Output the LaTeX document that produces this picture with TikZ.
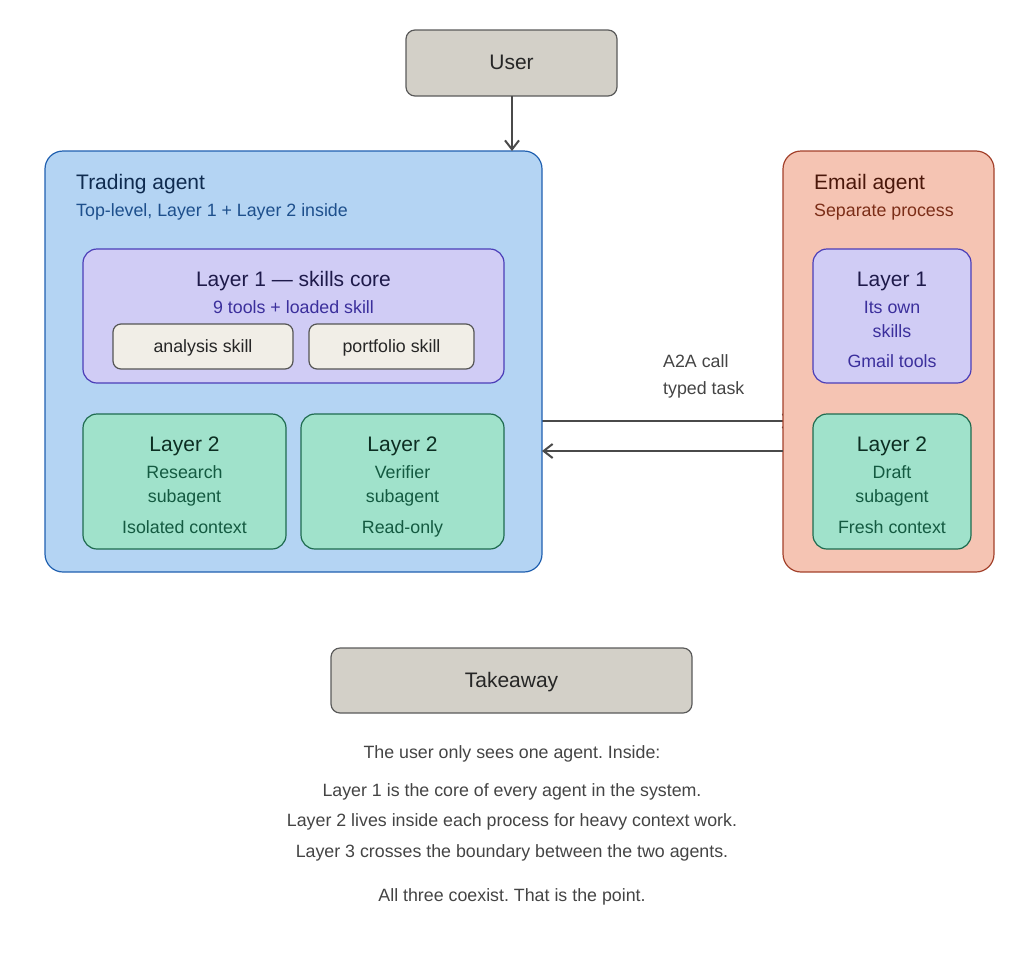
\documentclass[tikz,border=0pt]{standalone}
\usepackage{fontspec}
\setmainfont{Liberation Sans}
\frenchspacing
\usetikzlibrary{arrows.meta,backgrounds}
\definecolor{usrfill}{HTML}{D3D0C8}
\definecolor{usrdraw}{HTML}{5A5A5A}
\definecolor{bluefill}{HTML}{B4D4F3}
\definecolor{bluedraw}{HTML}{2060B0}
\definecolor{bluetitle}{HTML}{0F2B4F}
\definecolor{bluesub}{HTML}{1D4F8C}
\definecolor{lonefill}{HTML}{D0CCF5}
\definecolor{lonedraw}{HTML}{4B3EB8}
\definecolor{lonetitle}{HTML}{1E1A4A}
\definecolor{lonesub}{HTML}{3B2F9C}
\definecolor{skillfill}{HTML}{F1EEE7}
\definecolor{skilldraw}{HTML}{555555}
\definecolor{ltwofill}{HTML}{A0E2CB}
\definecolor{ltwodraw}{HTML}{1E6B4F}
\definecolor{ltwotitle}{HTML}{0C2E22}
\definecolor{ltwosub}{HTML}{145A41}
\definecolor{emailfill}{HTML}{F5C4B3}
\definecolor{emaildraw}{HTML}{A3412B}
\definecolor{emailtitle}{HTML}{4A170A}
\definecolor{emailsub}{HTML}{7B2D17}
\definecolor{arrowcol}{HTML}{4A4A4A}
\definecolor{textgray}{HTML}{444444}
\tikzset{
  box/.style={draw, line width=1.2pt, inner sep=0pt, outer sep=0pt},
  head/.style={anchor=base, inner sep=0pt, font=\fontsize{21}{25}\selectfont},
  body/.style={anchor=base, inner sep=0pt, font=\fontsize{17.8}{21}\selectfont},
  conn/.style={draw=arrowcol, line width=2pt, -{Straight Barb[length=9pt,width=14pt,line width=2pt]}},
}
\begin{document}
\begin{tikzpicture}[x=1pt,y=-1pt]
\useasboundingbox (0,0) rectangle (1024,964);
% boxes
\node[box, fill=usrfill, draw=usrdraw, rounded corners=9pt, minimum width=211pt, minimum height=66pt] (user) at (511.5,63) {};
\node[box, fill=bluefill, draw=bluedraw, rounded corners=18pt, minimum width=497pt, minimum height=421pt] (trading) at (293.5,361.5) {};
\node[box, fill=emailfill, draw=emaildraw, rounded corners=18pt, minimum width=211pt, minimum height=421pt] (email) at (888.5,361.5) {};
\node[box, fill=lonefill, draw=lonedraw, rounded corners=14pt, minimum width=421pt, minimum height=134pt] (lone) at (293.5,316) {};
\node[box, fill=skillfill, draw=skilldraw, rounded corners=8pt, minimum width=180pt, minimum height=45pt] (anaskill) at (203,346.5) {};
\node[box, fill=skillfill, draw=skilldraw, rounded corners=8pt, minimum width=165pt, minimum height=45pt] (portskill) at (391.5,346.5) {};
\node[box, fill=ltwofill, draw=ltwodraw, rounded corners=14pt, minimum width=203pt, minimum height=135pt] (research) at (184.5,481.5) {};
\node[box, fill=ltwofill, draw=ltwodraw, rounded corners=14pt, minimum width=203pt, minimum height=135pt] (verifier) at (402.5,481.5) {};
\node[box, fill=lonefill, draw=lonedraw, rounded corners=14pt, minimum width=158pt, minimum height=134pt] (elone) at (892,316) {};
\node[box, fill=ltwofill, draw=ltwodraw, rounded corners=14pt, minimum width=158pt, minimum height=135pt] (eltwo) at (892,481.5) {};
\node[box, fill=usrfill, draw=usrdraw, rounded corners=9pt, minimum width=361pt, minimum height=65pt] (takeaway) at (511.5,680.5) {};
% connectors
\coordinate (tstart) at (trading.east |- 0,421);
\coordinate (tend) at ([xshift=10pt]email.west |- 0,421);
\coordinate (rstart) at (email.west |- 0,451);
\coordinate (rend) at (trading.east |- 0,451);
\begin{scope}[on background layer]
\draw[conn] (tstart) -- (tend);
\end{scope}
\draw[conn] (rstart) -- (rend);
\draw[conn] (user.south -| 512,0) -- (trading.north -| 512,0);
% texts
\node[head, anchor=base west, text=bluetitle] (tattl) at (76,189.5) {Trading agent};
\node[body, anchor=base west, text=bluesub] (tatsub) at (76,216.4) {Top-level, Layer 1 + Layer 2 inside};
\node[head, text=lonetitle] (lonettl) at (293.5,286.5) {Layer 1 — skills core};
\node[body, text=lonesub] (lonesubt) at (293.5,313.4) {9 tools + loaded skill};
\node[body, text=black!85] (anatxt) at (203,352.4) {analysis skill};
\node[body, text=black!85] (porttxt) at (391.5,352.4) {portfolio skill};
\node[head, text=ltwotitle] (resttl) at (184.5,451.5) {Layer 2};
\node[body, text=ltwosub] (resa) at (184.5,478.4) {Research};
\node[body, text=ltwosub] (resb) at (184.5,502.4) {subagent};
\node[body, text=ltwosub] (resc) at (184.5,533.4) {Isolated context};
\node[head, text=ltwotitle] (verttl) at (402.5,451.5) {Layer 2};
\node[body, text=ltwosub] (vera) at (402.5,478.4) {Verifier};
\node[body, text=ltwosub] (verb) at (402.5,502.4) {subagent};
\node[body, text=ltwosub] (verc) at (402.5,533.4) {Read-only};
\node[head, anchor=base west, text=emailtitle] (emttl) at (814,189.5) {Email agent};
\node[body, anchor=base west, text=emailsub] (emsub) at (814,216.4) {Separate process};
\node[head, text=lonetitle] (eonettl) at (892,286.5) {Layer 1};
\node[body, text=lonesub] (eonea) at (892,313.4) {Its own};
\node[body, text=lonesub] (eoneb) at (892,337.4) {skills};
\node[body, text=lonesub] (eonec) at (892,367.4) {Gmail tools};
\node[head, text=ltwotitle] (etwottl) at (892,451.5) {Layer 2};
\node[body, text=ltwosub] (etwoa) at (892,478.4) {Draft};
\node[body, text=ltwosub] (etwob) at (892,502.4) {subagent};
\node[body, text=ltwosub] (etwoc) at (892,533.4) {Fresh context};
\node[body, anchor=base west, text=textgray] (lbla) at (663,367.4) {A2A call};
\node[body, anchor=base west, text=textgray] (lblb) at (663,394.4) {typed task};
\node[head, text=black!85] (usertxt) at (511.5,69.5) {User};
\node[head, text=black!85] (taketxt) at (511.5,687.5) {Takeaway};
\node[body, text=textgray] (ka) at (512,758.4) {The user only sees one agent. Inside:};
\node[body, text=textgray] (kb) at (512,796.4) {Layer 1 is the core of every agent in the system.};
\node[body, text=textgray] (kc) at (512,826.4) {Layer 2 lives inside each process for heavy context work.};
\node[body, text=textgray] (kd) at (512,857.4) {Layer 3 crosses the boundary between the two agents.};
\node[body, text=textgray] (ke) at (512,901.4) {All three coexist. That is the point.};
\end{tikzpicture}
\end{document}
